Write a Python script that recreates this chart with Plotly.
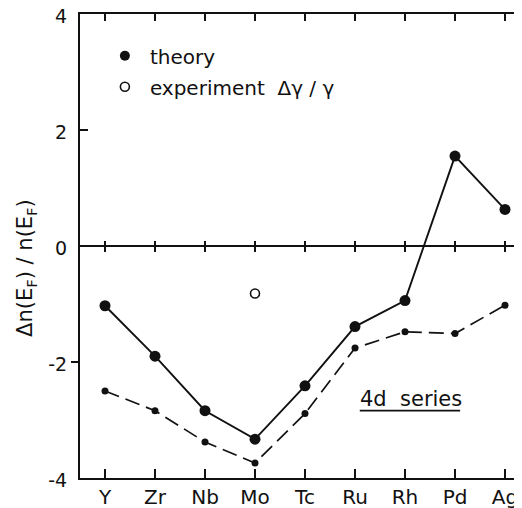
import plotly.graph_objects as go

categories = ["Y", "Zr", "Nb", "Mo", "Tc", "Ru", "Rh", "Pd", "Ag"]
theory = [-1.03, -1.90, -2.84, -3.33, -2.41, -1.39, -0.94, 1.55, 0.63]
theory_dashed = [-2.50, -2.84, -3.38, -3.74, -2.89, -1.76, -1.48, -1.51, -1.02]
exp_cat = ["Mo"]
exp_val = [-0.82]
ytick_vals = [-4, -2, 0, 2, 4]
ytick_text = ["-4", "-2", "0", "2", "4"]

FONT = "DejaVu Sans"
BLACK = "#111111"

pos = {c: i for i, c in enumerate(categories)}
xs = [pos[c] for c in categories]
xexp = [pos[c] for c in exp_cat]

fig = go.Figure()

fig.add_trace(go.Scatter(
    x=xs, y=theory_dashed, mode="lines+markers",
    line=dict(color=BLACK, width=1.7, dash="15px,7px"),
    marker=dict(size=7, color=BLACK), showlegend=False, hoverinfo="skip"))
fig.add_trace(go.Scatter(
    x=xs, y=theory, mode="lines+markers",
    line=dict(color=BLACK, width=1.9),
    marker=dict(size=11, color=BLACK), showlegend=False, hoverinfo="skip"))
fig.add_trace(go.Scatter(
    x=[None], y=[None], mode="markers", name="theory", legendgroup="a",
    marker=dict(size=10, color=BLACK), hoverinfo="skip"))
fig.add_trace(go.Scatter(
    x=xexp, y=exp_val, mode="markers", name="experiment  \u0394\u03b3 / \u03b3",
    legendgroup="b",
    marker=dict(size=9, color="white", symbol="circle",
                line=dict(color=BLACK, width=1.6)), hoverinfo="skip"))

# dummy traces for auxiliary axes
for xa, ya in [("x2", "y"), ("x3", "y"), ("x4", "y"), ("x", "y2"), ("x", "y3"), ("x", "y4")]:
    fig.add_trace(go.Scatter(x=xs, y=[None] * len(xs), xaxis=xa, yaxis=ya,
                             mode="markers", showlegend=False, hoverinfo="skip"))

xr = [-0.5, 8.34]
common_x = dict(range=xr, tickvals=xs, showgrid=False, zeroline=False, tickwidth=1.5,
                tickcolor=BLACK, automargin=False)
aux_y = dict(range=[-4, 4], overlaying="y", showticklabels=False, showline=False,
             showgrid=False, zeroline=False, tickwidth=1.5, tickcolor=BLACK,
             automargin=False)

fig.update_layout(
    width=514, height=500,
    margin=dict(l=72, r=0, t=6, b=30, autoexpand=False),
    paper_bgcolor="white", plot_bgcolor="white",
    font=dict(family=FONT, color=BLACK),
    xaxis=dict(**common_x, ticktext=categories, ticks="inside", ticklen=9,
               showline=True, linewidth=2, linecolor=BLACK,
               tickfont=dict(size=20, family=FONT)),
    xaxis2=dict(**common_x, overlaying="x", anchor="free", position=0.5, ticks="outside",
                ticklen=5, showticklabels=False, showline=False),
    xaxis3=dict(**common_x, overlaying="x", anchor="free", position=0.5, ticks="inside",
                ticklen=5, showticklabels=False, showline=False),
    xaxis4=dict(**common_x, overlaying="x", side="top", anchor="y", ticks="inside",
                ticklen=7, showticklabels=False, showline=True, linewidth=2,
                linecolor=BLACK),
    yaxis=dict(range=[-4, 4], tickvals=ytick_vals, ticktext=ytick_text, ticks="",
               showline=True, linewidth=2, linecolor=BLACK, showgrid=False,
               zeroline=True, zerolinewidth=2, zerolinecolor=BLACK, automargin=False,
               tickfont=dict(size=19, family=FONT), ticklabelstandoff=7,
               ticklabeloverflow="allow", ticklabelshift=2),
    yaxis2=dict(**aux_y, side="right", tickvals=[-2, 2], ticks="inside", ticklen=7),
    yaxis3=dict(**aux_y, side="left", tickvals=[-2], ticks="outside", ticklen=8),
    yaxis4=dict(**aux_y, side="left", tickvals=[2], ticks="inside", ticklen=8),
    legend=dict(x=0.045, y=0.952, xanchor="left", yanchor="top", itemwidth=40,
                bgcolor="rgba(0,0,0,0)", font=dict(size=20, family=FONT),
                tracegroupgap=2),
    annotations=[
        dict(text="4d  series", xref="paper", yref="paper",
             x=0.749, y=0.17, xanchor="center", yanchor="middle",
             showarrow=False, font=dict(size=21, family=FONT)),
        dict(text="\u0394n(E<sub>F</sub>) / n(E<sub>F</sub>)", xref="paper", yref="paper",
             x=-0.122, y=0.453, xanchor="center", yanchor="middle", textangle=-90,
             showarrow=False, font=dict(size=21, family=FONT)),
    ],
    shapes=[dict(type="line", xref="paper", yref="paper", x0=0.633, x1=0.86,
                 y0=0.145, y1=0.145, line=dict(color=BLACK, width=1.8))],
)

fig.write_html("out.html")
